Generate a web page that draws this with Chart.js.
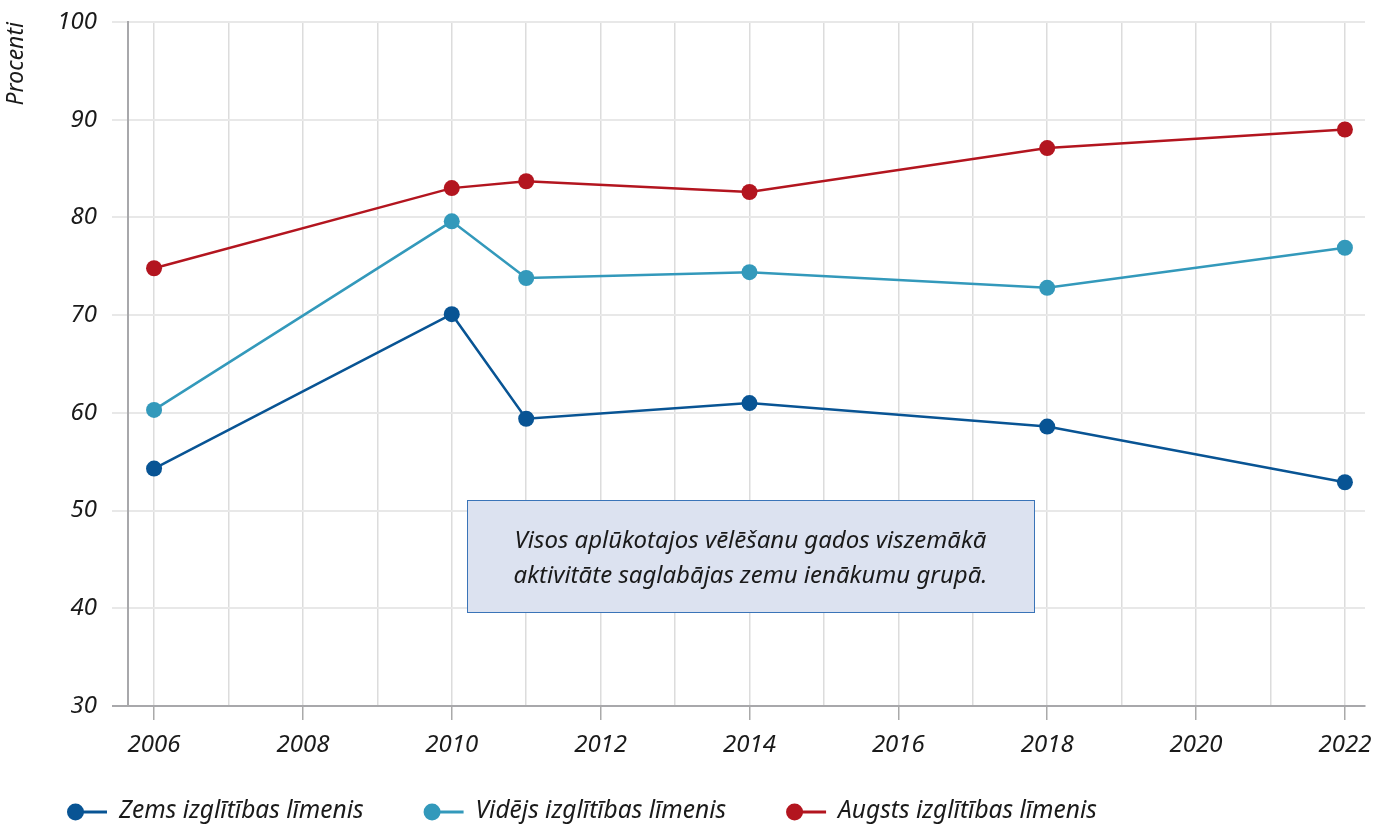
<!DOCTYPE html>
<html>
<head>
<meta charset="utf-8">
<script src="https://cdn.jsdelivr.net/npm/chart.js@4.4.1/dist/chart.umd.min.js"></script>
<style>
    html, body { margin: 0; padding: 0; background: #fff; }
    #wrap { width: 1373px; height: 825px; }
</style>
</head>
<body>
<div id="wrap"><canvas id="chart" width="1373" height="825"></canvas></div>
<script>
// data
const years = [2006, 2010, 2011, 2014, 2018, 2022];
const zems = [54.3, 70.1, 59.4, 61.0, 58.6, 52.9];
const videjs = [60.3, 79.6, 73.8, 74.4, 72.8, 76.9];
const augsts = [74.8, 83.0, 83.7, 82.6, 87.1, 89.0];
const seriesNames = ['Zems izglītības līmenis', 'Vidējs izglītības līmenis', 'Augsts izglītības līmenis'];
const seriesColors = ['#085494', '#3399bb', '#b3151f'];
const noteLines = ['Visos aplūkotajos vēlēšanu gados viszemākā', 'aktivitāte saglabājas zemu ienākumu grupā.'];

const FONT = "'Noto Sans', 'Open Sans', sans-serif";
const TEXT = '#1a1a1a';

let toPoints = function (arr) {
    return years.map((y, i) => ({ x: y, y: arr[i] }));
}

let makeDataset = function (i, arr) {
    return {
        label: seriesNames[i],
        data: toPoints(arr),
        borderColor: seriesColors[i],
        backgroundColor: seriesColors[i],
        borderWidth: 2.5,
        pointRadius: 8,
        pointHoverRadius: 8,
        pointBorderWidth: 0,
        pointStyle: 'circle',
        fill: false,
        tension: 0
    };
}

// note box drawn inside the plot
const notePlugin = {
    id: 'note',
    afterDatasetsDraw(chart) {
        let ctx = chart.ctx;
        let xs = chart.scales.x;
        let ys = chart.scales.y;
        let x1 = Math.round(xs.getPixelForValue(2010.2));
        let x2 = Math.round(xs.getPixelForValue(2017.82));
        let y1 = Math.round(ys.getPixelForValue(51.1));
        let y2 = Math.round(ys.getPixelForValue(39.6));
        ctx.save();
        ctx.fillStyle = '#dce2f0';
        ctx.fillRect(x1, y1, x2 - x1, y2 - y1);
        ctx.strokeStyle = '#3a74b8';
        ctx.lineWidth = 1;
        ctx.strokeRect(x1 + 0.5, y1 + 0.5, x2 - x1, y2 - y1);
        ctx.fillStyle = TEXT;
        ctx.font = "italic 24px " + FONT;
        ctx.textAlign = 'center';
        ctx.textBaseline = 'middle';
        let cx = (x1 + x2) / 2;
        let cy = (y1 + y2) / 2;
        ctx.fillText(noteLines[0], cx, cy - 15);
        ctx.fillText(noteLines[1], cx, cy + 20);
        ctx.restore();
    }
};

// legend: dot + short line, then label
const legendPlugin = {
    id: 'dotLegend',
    afterDraw(chart) {
        let ctx = chart.ctx;
        let x = 67;
        let y = 812;
        ctx.save();
        ctx.font = "italic 24.5px " + FONT;
        ctx.textBaseline = 'middle';
        ctx.textAlign = 'left';
        chart.data.datasets.forEach(ds => {
            let c = ds.borderColor;
            ctx.strokeStyle = c;
            ctx.lineWidth = 3;
            ctx.beginPath();
            ctx.moveTo(x + 8.5, y);
            ctx.lineTo(x + 40, y);
            ctx.stroke();
            ctx.fillStyle = c;
            ctx.beginPath();
            ctx.arc(x + 8.5, y, 8.5, 0, Math.PI * 2);
            ctx.fill();
            ctx.fillStyle = TEXT;
            ctx.fillText(ds.label, x + 52, y - 1);
            x += 52 + ctx.measureText(ds.label).width + 60;
        });
        ctx.restore();
    }
};

const chart = new Chart(document.getElementById('chart'), {
    type: 'line',
    data: {
        datasets: [makeDataset(0, zems), makeDataset(1, videjs), makeDataset(2, augsts)]
    },
    options: {
        responsive: false,
        animation: false,
        layout: { padding: { top: 22, right: 3, left: 0, bottom: 59 } },
        plugins: {
            tooltip: { enabled: false },
            legend: { display: false }
        },
        scales: {
            x: {
                type: 'linear',
                min: 2005.65,
                max: 2022.27,
                afterBuildTicks(scale) {
                    let t = [];
                    for (let y = 2006; y <= 2022; y++) t.push({ value: y });
                    scale.ticks = t;
                },
                afterFit(scale) {
                    scale.height = 60;
                    scale.paddingLeft = 0;
                    scale.paddingRight = 0;
                },
                ticks: {
                    autoSkip: false,
                    maxRotation: 0,
                    padding: 11,
                    color: TEXT,
                    font: { family: FONT, size: 24, style: 'italic' },
                    callback: v => (v % 2 === 0 ? String(v) : '')
                },
                grid: {
                    color: '#dcdcdc',
                    lineWidth: 1.5,
                    tickLength: 14,
                    tickColor: ctx => (ctx.tick && ctx.tick.value % 2 === 0 ? '#aaaaaa' : 'rgba(0,0,0,0)')
                },
                border: { color: '#a8a8ab', width: 2 }
            },
            y: {
                min: 30,
                max: 100,
                afterFit(scale) {
                    scale.width = 128;
                    scale.paddingTop = 0;
                    scale.paddingBottom = 0;
                },
                ticks: {
                    stepSize: 10,
                    padding: 15,
                    color: TEXT,
                    font: { family: FONT, size: 24, style: 'italic' }
                },
                grid: {
                    color: ctx => (ctx.tick && ctx.tick.value === 30 ? '#a8a8ab' : '#e8e8e8'),
                    lineWidth: 2,
                    tickLength: 16
                },
                border: { color: '#a8a8ab', width: 2 },
                title: {
                    display: true,
                    text: 'Procenti',
                    align: 'end',
                    color: TEXT,
                    padding: { top: 3, bottom: 0 },
                    font: { family: FONT, size: 23, style: 'italic' }
                }
            }
        }
    },
    plugins: [notePlugin, legendPlugin]
});
</script>
</body>
</html>
